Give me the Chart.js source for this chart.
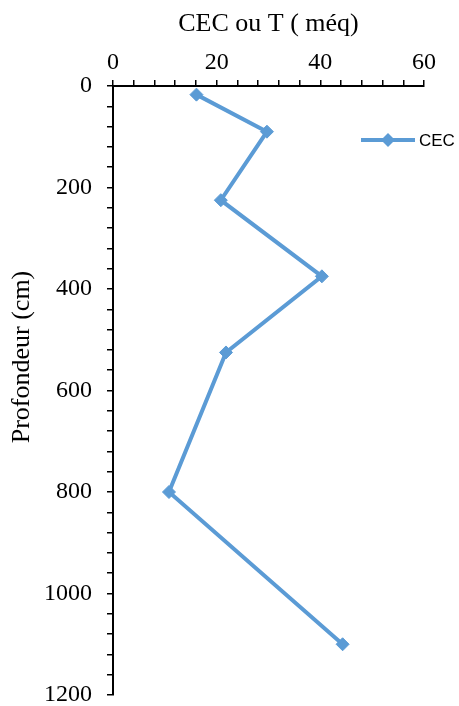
<!DOCTYPE html>
<html>
<head>
<meta charset="utf-8">
<script src="https://cdn.jsdelivr.net/npm/chart.js@4.4.0/dist/chart.umd.min.js"></script>
<style>
  html, body { margin: 0; padding: 0; background: #fff; }
  #wrap { width: 459px; height: 706px; position: relative; }
</style>
</head>
<body>
<div id="wrap"><canvas id="chartCEC"></canvas></div>
<script>
// Valeurs
const cec = [16.1, 29.7, 20.8, 40.3, 21.8, 10.8, 44.3];
const profondeur = [17, 90, 225, 375, 525, 800, 1100];
const serieLabel = "CEC";
const titreX = "CEC ou T ( méq)";
const titreY = "Profondeur (cm)";

const BLEU = "#5B9BD5";
const SERIF = "'Liberation Serif', 'Times New Roman', serif";

const points = cec.map((v, i) => ({ x: v, y: profondeur[i] }));

// Titre vertical + légende dessinés à la main
const decor = {
  id: "decor",
  afterDraw(chart) {
    const ctx = chart.ctx;
    ctx.save();
    ctx.fillStyle = "#000";
    ctx.font = "26px " + SERIF;
    ctx.textAlign = "center";
    ctx.textBaseline = "middle";
    ctx.translate(22, 357);
    ctx.rotate(-Math.PI / 2);
    ctx.fillText(titreY, 0, 0);
    ctx.restore();

    // légende
    const ly = 140;
    ctx.save();
    ctx.strokeStyle = BLEU;
    ctx.lineWidth = 4;
    ctx.beginPath();
    ctx.moveTo(361, ly);
    ctx.lineTo(415, ly);
    ctx.stroke();
    ctx.fillStyle = BLEU;
    ctx.beginPath();
    ctx.moveTo(388, ly - 7);
    ctx.lineTo(395, ly);
    ctx.lineTo(388, ly + 7);
    ctx.lineTo(381, ly);
    ctx.closePath();
    ctx.fill();
    ctx.fillStyle = "#000";
    ctx.font = "17px 'Liberation Sans', Arial, sans-serif";
    ctx.textAlign = "left";
    ctx.textBaseline = "middle";
    ctx.fillText(serieLabel, 419, ly + 1);
    ctx.restore();
  }
};

new Chart(document.getElementById("chartCEC"), {
  type: "scatter",
  data: {
    datasets: [{
      label: serieLabel,
      data: points,
      showLine: true,
      borderColor: BLEU,
      backgroundColor: BLEU,
      borderWidth: 4,
      pointStyle: "rectRot",
      pointRadius: 6.5,
      pointBorderWidth: 1,
      pointHoverRadius: 6.5,
      tension: 0
    }]
  },
  options: {
    responsive: true,
    maintainAspectRatio: false,
    animation: false,
    layout: { autoPadding: false, padding: { left: 0, top: 0, right: 35, bottom: 11 } },
    plugins: { legend: { display: false }, tooltip: { enabled: false } },
    scales: {
      x: {
        type: "linear",
        position: "top",
        min: 0, max: 60,
        afterFit: s => { s.height = 86; s.paddingLeft = 0; s.paddingRight = 0; },
        ticks: {
          stepSize: 4,
          autoSkip: false,
          maxRotation: 0,
          padding: 3,
          color: "#000",
          font: { family: SERIF, size: 24 },
          callback: v => (v % 20 === 0 ? v : "")
        },
        grid: { drawOnChartArea: false, drawTicks: true, tickLength: 6, color: "#000", lineWidth: 1.5 },
        border: { display: true, color: "#000", width: 2 },
        title: {
          display: true,
          text: titreX,
          color: "#000",
          font: { family: SERIF, size: 26 },
          padding: { top: 9, bottom: 0 }
        }
      },
      y: {
        type: "linear",
        reverse: true,
        min: 0, max: 1200,
        afterFit: s => { s.width = 113; s.paddingTop = 0; s.paddingBottom = 0; },
        ticks: {
          stepSize: 40,
          autoSkip: false,
          padding: 15,
          color: "#000",
          font: { family: SERIF, size: 24 },
          callback: v => (v % 200 === 0 ? v : "")
        },
        grid: { drawOnChartArea: false, drawTicks: true, tickLength: 6, color: "#000", lineWidth: 1.5 },
        border: { display: true, color: "#000", width: 2 }
      }
    }
  },
  plugins: [decor]
});
</script>
</body>
</html>
